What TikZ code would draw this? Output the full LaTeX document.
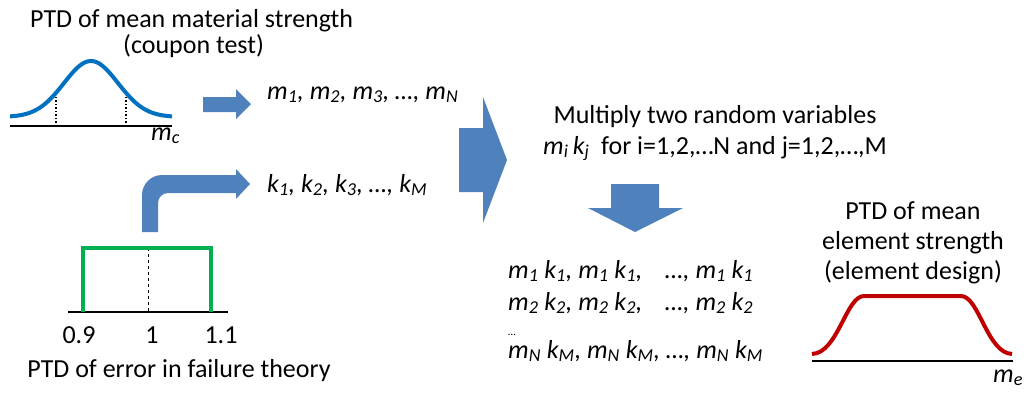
\documentclass[tikz,border=0pt]{standalone}
\usepackage{fontspec}
\setmainfont{Carlito}
\usepackage{tikz}
\definecolor{arrowblue}{HTML}{4F81BD}
\definecolor{pdfblue}{HTML}{0070C0}
\definecolor{pdfgreen}{HTML}{00B050}
\definecolor{pdfred}{HTML}{C00000}
\newcommand{\vsub}[2]{#1\textsubscript{#2}}

\begin{document}
\begin{tikzpicture}[x={(1pt,0pt)}, y={(0pt,-1pt)},
    every node/.style={inner sep=0pt, font=\fontsize{26}{30}\selectfont},
    blockarrow/.style={fill=arrowblue},
    axisline/.style={line width=2pt},
    guide/.style={line width=1.5pt, dotted}]
    % pixel coordinates: x to the right, y downwards
    \useasboundingbox (0,0) rectangle (1026,392);

    % Material strength PTD (normal curve)
    \def\mu{91}     % centre of the bell
    \def\sg{27}     % spread
    \draw[axisline] (10,126) -- (172,126);
    \draw[guide] (56,126) -- (56,93);
    \draw[guide] (126,126) -- (126,93);
    \draw[pdfblue, line width=4pt] plot[domain=10:172, samples=80, variable=\t]
        (\t, {117-56*exp(-0.5*((\t-\mu)/\sg)*((\t-\mu)/\sg))});
    \node[anchor=base west] (titleA) at (30,27) {PTD of mean material strength};
    \node[anchor=base west] (titleB) at (123,53) {(coupon test)};
    \node[anchor=base west] (mclabel) at (151,140) {\textit{\vsub{m}{c}}};

    % Error PTD (uniform)
    \draw[axisline] (68,312) -- (228,312);
    \draw[dashed, line width=1pt] (148,248) -- (148,312);
    \draw[pdfgreen, line width=3.5pt] (83,312) -- (83,248) -- (211,248) -- (211,312);
    \node[anchor=base] (tickA) at (79,343) {0.9};
    \node[anchor=base] (tickB) at (152,343) {1};
    \node[anchor=base] (tickC) at (221,343) {1.1};
    \node[anchor=base] (errlabel) at (179,377) {PTD of error in failure theory};

    % Block arrows
    \fill[blockarrow] (203,97) -- (236,97) -- (236,89) -- (251,104) -- (236,119)
        -- (236,112) -- (203,112) -- cycle;
    \fill[blockarrow] (142,232) -- (142,195) .. controls (142,184) and (151,175) .. (162,175)
        -- (236,175) -- (236,169) -- (250,184) -- (236,199) -- (236,193) -- (168,193)
        .. controls (162.5,193) and (158,197.5) .. (158,203) -- (158,232) -- cycle;
    \fill[blockarrow] (459,128) -- (483,128) -- (483,97) -- (507,160) -- (483,223)
        -- (483,192) -- (459,192) -- cycle;
    \fill[blockarrow] (611,184) -- (659,184) -- (659,208) -- (683,208) -- (635,232)
        -- (588,208) -- (611,208) -- cycle;

    % Samples
    \node[anchor=base west] (mseq) at (267,99)
        {\textit{\vsub{m}{1}, \vsub{m}{2}, \vsub{m}{3}, …, \vsub{m}{N}}};
    \node[anchor=base west] (kseq) at (267,192)
        {\textit{\vsub{k}{1}, \vsub{k}{2}, \vsub{k}{3}, …, \vsub{k}{M}}};

    % Product of the two variables
    \node[anchor=base] (multA) at (715,123) {Multiply two random variables};
    \node[anchor=base west] (multB) at (543,154)
        {\textit{\vsub{m}{i}\,\vsub{k}{j}}\ \ for i=1,2,…N and j=1,2,…,M};
    \def\pw{157pt}  % width before the ellipsis
    \node[anchor=base west] (prodA) at (508,278) {\textit{\makebox[\pw][l]{\vsub{m}{1} \vsub{k}{1}, \vsub{m}{1} \vsub{k}{1},}…, \vsub{m}{1} \vsub{k}{1}}};
    \node[anchor=base west] (prodB) at (508,310) {\textit{\makebox[\pw][l]{\vsub{m}{2} \vsub{k}{2}, \vsub{m}{2} \vsub{k}{2},}…, \vsub{m}{2} \vsub{k}{2}}};
    \node[anchor=base west, font=\fontsize{11}{13}\selectfont] (proddots) at (508,335) {…};
    \node[anchor=base west] (prodC) at (508,358) {\textit{\vsub{m}{N} \vsub{k}{M}, \vsub{m}{N} \vsub{k}{M}, …, \vsub{m}{N} \vsub{k}{M}}};

    % Element strength PTD
    \node[anchor=base] (elemA) at (913,219) {PTD of mean};
    \node[anchor=base] (elemB) at (913,249) {element strength};
    \node[anchor=base] (elemC) at (913,279) {(element design)};
    \draw[axisline] (812,361) -- (1013,361);
    \draw[pdfred, line width=4pt] (812,354) .. controls (838,353) and (846,296) .. (864,296)
        -- (961,296) .. controls (979,296) and (987,353) .. (1012,354);
    \node[anchor=base west] (melabel) at (993,382) {\textit{\vsub{m}{e}}};
\end{tikzpicture}
\end{document}
